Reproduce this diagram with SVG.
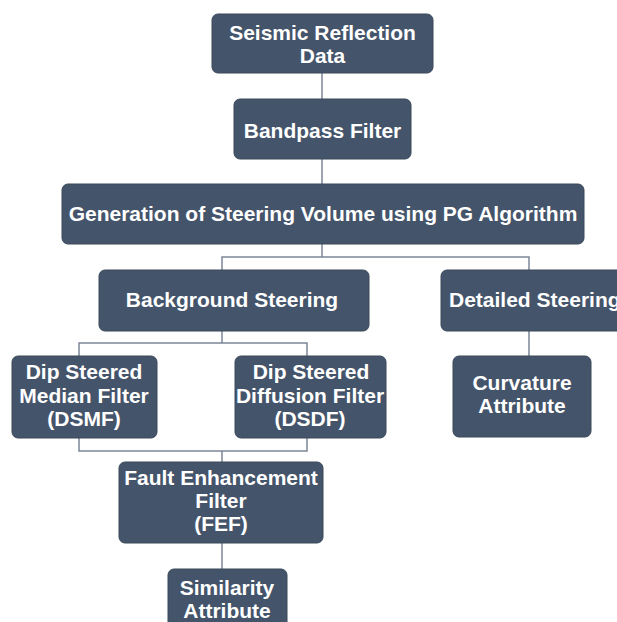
<svg xmlns="http://www.w3.org/2000/svg" width="617" height="622" viewBox="0 0 617 622">
<style>
.box{fill:#44546a;stroke:#3a4859;stroke-width:1}
.t{font-family:"Liberation Sans",Arial,sans-serif;font-weight:bold;font-size:21px;fill:#ffffff;text-anchor:middle}
.c{fill:none;stroke:#7b8796;stroke-width:1.5}
</style>
<rect width="617" height="622" fill="#ffffff"/>
<g id="connectors">
<path class="c" d="M322 73V99M322 159V184M322 244V257H222V270M222 257H529V270M222 330V343H79V356M222 343H307V356M529 330V356M79 438V451H307V438M222 451V462M222 543V569"/>
</g>
<g id="n1"><rect class="box" x="212" y="14" width="221" height="59" rx="6"/><text class="t" x="322.5" y="40">Seismic Reflection</text><text class="t" x="322.5" y="63">Data</text></g>
<g id="n2"><rect class="box" x="234" y="99" width="177" height="60" rx="6"/><text class="t" x="322.5" y="138">Bandpass Filter</text></g>
<g id="n3"><rect class="box" x="62" y="184" width="522" height="60" rx="6"/><text class="t" x="323" y="221">Generation of Steering Volume using PG Algorithm</text></g>
<g id="n4"><rect class="box" x="99" y="270" width="270" height="61" rx="6"/><text class="t" x="232" y="307">Background Steering</text></g>
<g id="n5"><rect class="box" x="441" y="270" width="190" height="61" rx="6"/><text class="t" x="449" y="307" style="text-anchor:start">Detailed Steering</text></g>
<g id="n6"><rect class="box" x="12" y="356" width="145" height="82" rx="6"/><text class="t" x="84" y="379">Dip Steered</text><text class="t" x="84" y="403">Median Filter</text><text class="t" x="84" y="426">(DSMF)</text></g>
<g id="n7"><rect class="box" x="235" y="356" width="151" height="82" rx="6"/><text class="t" x="311" y="379">Dip Steered</text><text class="t" x="310" y="403">Diffusion Filter</text><text class="t" x="310" y="426">(DSDF)</text></g>
<g id="n8"><rect class="box" x="453" y="356" width="138" height="81" rx="6"/><text class="t" x="522" y="390">Curvature</text><text class="t" x="522" y="413">Attribute</text></g>
<g id="n9"><rect class="box" x="119" y="462" width="204" height="81" rx="6"/><text class="t" x="221" y="485">Fault Enhancement</text><text class="t" x="221" y="508">Filter</text><text class="t" x="221" y="531">(FEF)</text></g>
<g id="n10"><rect class="box" x="168" y="569" width="119" height="70" rx="6"/><text class="t" x="227" y="595">Similarity</text><text class="t" x="227" y="618">Attribute</text></g>
</svg>
